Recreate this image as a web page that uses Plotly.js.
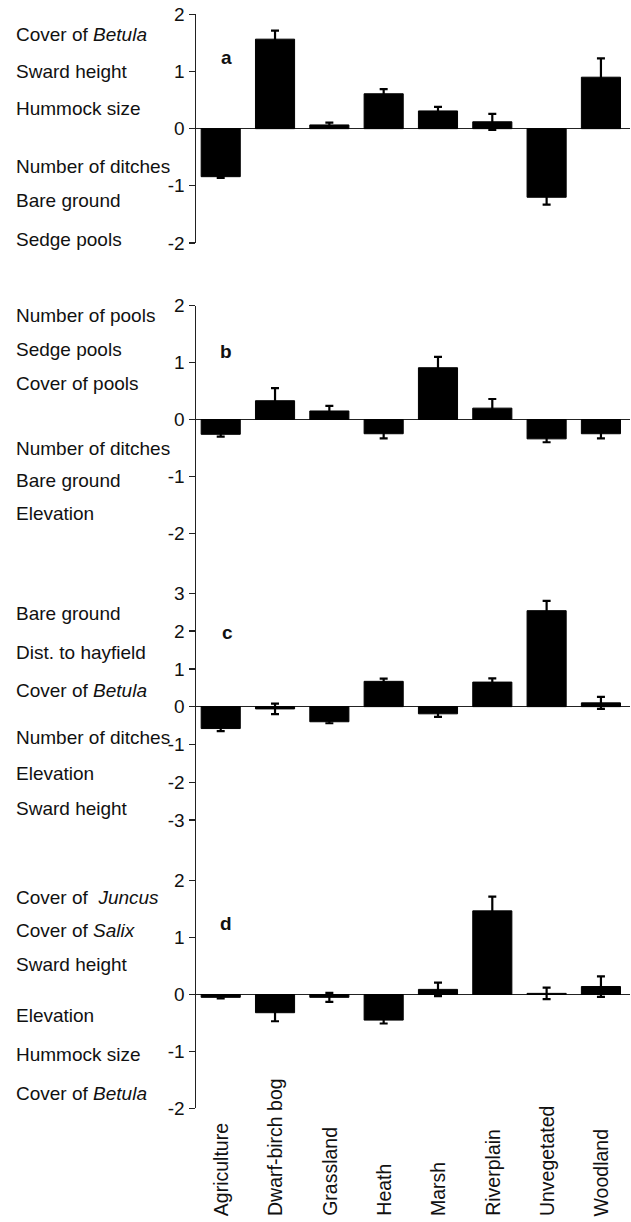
<!DOCTYPE html>
<html>
<head>
<meta charset="utf-8">
<script src="https://cdn.plot.ly/plotly-3.0.1.min.js"></script>
<style>html,body{margin:0;padding:0;background:#fff;}#chart{width:631px;height:1222px;}</style>
</head>
<body>
<div id="chart"></div>
<script>
// ---- data ----
const categories = ["Agriculture","Dwarf-birch bog","Grassland","Heath","Marsh","Riverplain","Unvegetated","Woodland"];

const valuesA = [-0.84, 1.565, 0.065, 0.61, 0.31, 0.12, -1.2, 0.9];
const errorsA = [0.02, 0.15, 0.04, 0.08, 0.07, 0.14, 0.13, 0.33];

const valuesB = [-0.26, 0.33, 0.15, -0.25, 0.91, 0.2, -0.34, -0.25];
const errorsB = [0.04, 0.22, 0.09, 0.08, 0.19, 0.16, 0.06, 0.08];

const valuesC = [-0.58, -0.06, -0.4, 0.67, -0.19, 0.65, 2.54, 0.1];
const errorsC = [0.07, 0.14, 0.04, 0.07, 0.08, 0.1, 0.26, 0.16];

const valuesD = [-0.05, -0.32, -0.05, -0.45, 0.09, 1.47, 0.02, 0.14];
const errorsD = [0.02, 0.15, 0.08, 0.06, 0.12, 0.25, 0.1, 0.18];

const panelLetters = ["a","b","c","d"];
const tickValsA = [-2,-1,0,1,2];
const tickValsB = [-2,-1,0,1,2];
const tickValsC = [-3,-2,-1,0,1,2,3];
const tickValsD = [-2,-1,0,1,2];

const labelsA = ["Cover of <i>Betula</i>","Sward height","Hummock size","Number of ditches","Bare ground","Sedge pools"];
const labelsB = ["Number of pools","Sedge pools","Cover of pools","Number of ditches","Bare ground","Elevation"];
const labelsC = ["Bare ground","Dist. to hayfield","Cover of <i>Betula</i>","Number of ditches","Elevation","Sward height"];
const labelsD = ["Cover of  <i>Juncus</i>","Cover of <i>Salix</i>","Sward height","Elevation","Hummock size","Cover of <i>Betula</i>"];

// ---- layout helpers (pixel positions) ----
const W = 631, H = 1222;
const py = p => 1 - p / H;
const labelRowsPx = [
  [34, 71, 109, 166, 200, 239],
  [315, 349, 383, 448, 481, 513],
  [613, 652, 690, 737, 773, 808],
  [897, 930, 964, 1016, 1054, 1093]
];
const letterPx = [[226, 58], [226, 351], [227, 632], [226, 923]];
const yDomainsPx = [[14.3, 243], [305.7, 593.3], [593.3, 880.7], [880.7, 1108.3]];
const yRanges = [[-2, 2], [-3.054, 2], [-4.607, 3], [-2, 2]];
const xDomain = [196 / W, 630 / W];
const xRange = [-0.455, 7.535];

const FONT = "Liberation Sans, Arial, sans-serif";
const INK = "#111";

const allValues = [valuesA, valuesB, valuesC, valuesD];
const allErrors = [errorsA, errorsB, errorsC, errorsD];
const allTicks = [tickValsA, tickValsB, tickValsC, tickValsD];
const allLabels = [labelsA, labelsB, labelsC, labelsD];

const traces = [];
const layout = {
  width: W, height: H,
  margin: {l: 0, r: 0, t: 0, b: 0, pad: 0},
  paper_bgcolor: "#fff", plot_bgcolor: "rgba(0,0,0,0)",
  showlegend: false,
  bargap: 0.28,
  font: {family: FONT, color: INK, size: 18},
  annotations: []
};

for (let k = 0; k < 4; k++) {
  const sfx = k === 0 ? "" : String(k + 1);
  traces.push({
    type: "bar",
    x: categories,
    y: allValues[k],
    xaxis: "x" + sfx, yaxis: "y" + sfx,
    marker: {color: "#000", line: {color: "#000", width: 1}},
    error_y: {type: "data", array: allErrors[k], visible: true, color: "#000", thickness: 2.2, width: 4},
    hoverinfo: "skip"
  });
  layout["xaxis" + sfx] = {
    domain: xDomain, anchor: "y" + sfx, type: "category",
    range: xRange, showline: false, showgrid: false, zeroline: false,
    showticklabels: false, ticks: ""
  };
  layout["yaxis" + sfx] = {
    domain: [py(yDomainsPx[k][1]), py(yDomainsPx[k][0])],
    anchor: "x" + sfx, range: yRanges[k],
    tickmode: "array", tickvals: allTicks[k],
    ticktext: allTicks[k].map(v => String(v)),
    ticks: "outside", ticklen: 6, tickwidth: 1.3, tickcolor: "#222",
    showline: true, linecolor: "#222", linewidth: 1.5,
    zeroline: true, zerolinecolor: "#222", zerolinewidth: 1.5,
    showgrid: false,
    tickfont: {family: FONT, size: 19, color: INK}
  };
  // row labels on the left
  allLabels[k].forEach((t, i) => {
    layout.annotations.push({
      text: t, xref: "paper", yref: "paper",
      x: 14 / W, y: py(labelRowsPx[k][i]),
      xanchor: "left", yanchor: "middle", showarrow: false,
      font: {family: FONT, size: 19, color: INK}
    });
  });
  // panel letter
  layout.annotations.push({
    text: "<b>" + panelLetters[k] + "</b>", xref: "paper", yref: "paper",
    x: letterPx[k][0] / W, y: py(letterPx[k][1]),
    xanchor: "center", yanchor: "middle", showarrow: false,
    font: {family: FONT, size: 19, color: INK}
  });
}

// category labels under the bottom panel, rotated, aligned at their start
categories.forEach(c => {
  layout.annotations.push({
    text: c, xref: "x4", yref: "paper", x: c, y: py(1218),
    xanchor: "center", yanchor: "bottom", textangle: -90, showarrow: false,
    font: {family: FONT, size: 19.5, color: INK}
  });
});

Plotly.newPlot("chart", traces, layout, {staticPlot: true, displayModeBar: false});
</script>
</body>
</html>
